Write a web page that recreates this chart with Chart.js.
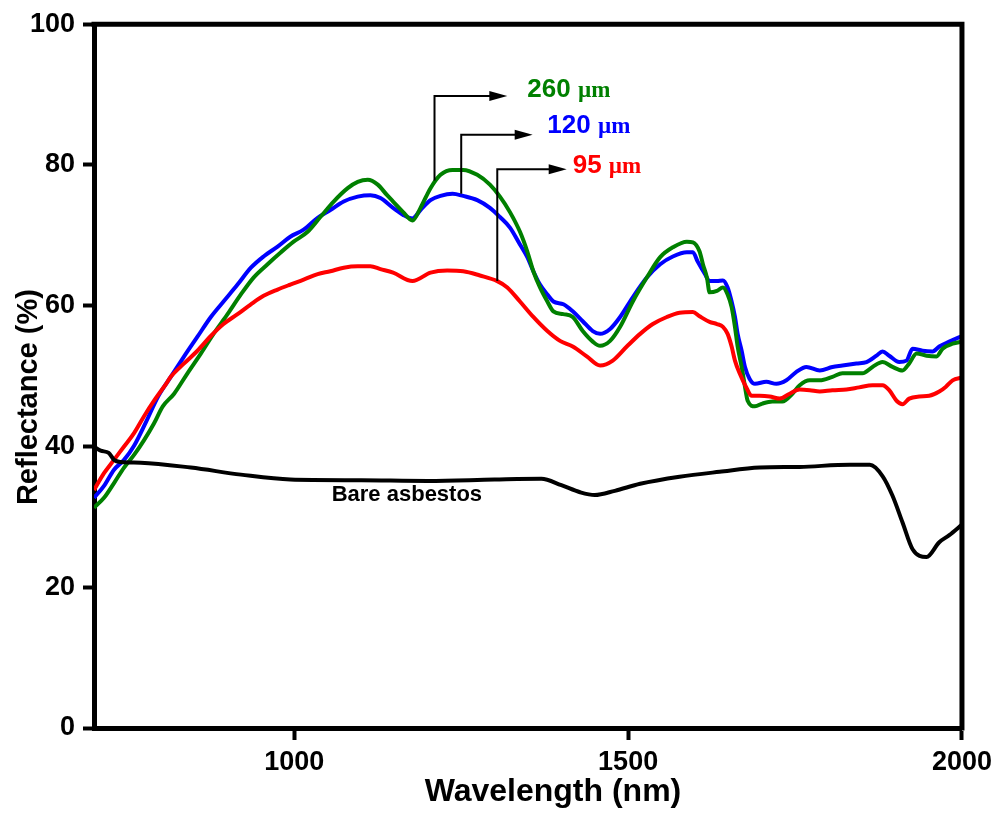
<!DOCTYPE html>
<html>
<head>
<meta charset="utf-8">
<script src="https://cdn.jsdelivr.net/npm/chart.js@4.4.1/dist/chart.umd.min.js"></script>
<style>
html,body{margin:0;padding:0;background:#fff;}
#wrap{width:998px;height:815px;position:relative;}
</style>
</head>
<body>
<div id="wrap"><canvas id="c" width="998" height="815"></canvas></div>
<script>
// ---- data ----
const wavelengthTicks = [1000, 1500, 2000];
const reflectanceTicks = [0, 20, 40, 60, 80, 100];

const nm260 = [700,715,730,745,760,775,790,803,820,840,860,879,900,920,939,960,980,999,1020,1039,1059,1080,1095,1110,1125,1139,1148,1163,1177,1189,1204,1219,1237,1253,1274,1293,1308,1323,1338,1349,1358,1368,1379,1388,1403,1417,1432,1447,1458,1473,1488,1507,1528,1548,1567,1588,1597,1607,1612,1618,1622,1633,1642,1649,1655,1660,1664,1670,1675,1679,1690,1701,1716,1731,1746,1757,1772,1787,1806,1821,1851,1866,1881,1896,1911,1921,1932,1947,1962,1971,1986,2000];
const refl260 = [31.3,32.7,34.8,37.0,38.8,40.9,43.3,45.7,47.5,50.4,53.2,56.0,58.8,61.6,64.0,65.9,67.6,69.1,70.5,72.6,74.8,76.7,77.6,77.9,77.2,75.7,74.8,73.3,72.1,73.9,76.7,78.6,79.3,79.3,78.6,77.2,75.5,73.3,70.5,67.7,64.9,62.6,60.6,59.2,58.8,58.4,56.4,54.9,54.3,55.0,57.0,60.6,64.0,66.9,68.3,69.1,69.0,67.7,65.9,64.0,61.9,62.1,62.6,61.6,59.8,57.0,54.2,51.3,48.5,46.5,45.7,46.1,46.4,46.4,47.5,48.7,49.4,49.4,49.9,50.4,50.4,51.3,52.0,51.3,50.8,51.8,53.2,52.9,52.8,53.9,54.6,54.9];

const nm120 = [700,715,730,745,760,778,796,815,835,855,875,894,915,935,954,975,994,1014,1035,1054,1074,1095,1114,1129,1148,1163,1177,1189,1204,1219,1237,1253,1274,1293,1308,1323,1338,1349,1358,1368,1379,1388,1403,1417,1432,1447,1458,1473,1488,1507,1528,1548,1567,1588,1597,1604,1615,1622,1633,1642,1649,1655,1660,1664,1670,1675,1682,1690,1707,1722,1737,1752,1767,1787,1806,1821,1842,1857,1872,1881,1891,1906,1917,1926,1941,1956,1966,1981,2000];
const refl120 = [32.7,34.4,36.7,38.1,40.1,43.5,47.1,49.9,52.8,55.6,58.4,60.6,63.0,65.4,67.0,68.4,69.8,70.8,72.5,73.6,74.8,75.5,75.7,75.3,73.9,72.9,72.4,73.6,75.0,75.6,75.9,75.6,75.0,73.9,72.6,71.1,68.7,66.9,64.9,63.0,61.6,60.6,60.2,59.2,57.8,56.4,56.0,56.7,58.4,61.2,64.0,65.9,67.0,67.6,67.6,66.3,64.5,63.5,63.5,63.6,62.6,60.6,58.4,56.0,53.6,51.3,49.6,48.9,49.2,48.9,49.4,50.6,51.3,50.8,51.3,51.5,51.8,52.0,52.9,53.5,52.9,52.0,52.2,53.9,53.6,53.5,54.2,54.9,55.7];

const nm95 = [700,715,730,745,760,775,790,808,815,835,855,875,894,915,935,954,975,994,1014,1035,1054,1074,1095,1114,1129,1148,1177,1204,1229,1253,1278,1304,1319,1338,1358,1379,1398,1417,1438,1458,1477,1498,1518,1537,1558,1577,1597,1607,1622,1633,1642,1649,1655,1660,1667,1678,1685,1697,1712,1727,1742,1757,1772,1787,1806,1827,1846,1866,1881,1891,1902,1911,1921,1936,1951,1966,1976,1986,2000];
const refl95 = [33.8,36.2,38.1,40.0,41.9,44.3,46.5,48.9,49.9,51.8,53.6,55.7,57.4,58.8,60.2,61.4,62.3,63.0,63.7,64.5,64.9,65.4,65.6,65.6,65.2,64.7,63.5,64.7,65.0,64.9,64.3,63.5,62.6,60.6,58.4,56.4,55.0,54.2,52.8,51.5,52.2,54.2,56.0,57.4,58.4,59.0,59.1,58.5,57.7,57.4,57.0,56.0,54.2,52.2,50.4,48.2,47.2,47.2,47.1,46.8,47.5,48.1,48.0,47.8,48.0,48.1,48.4,48.7,48.7,48.0,46.5,46.0,46.8,47.1,47.2,47.8,48.5,49.4,49.8];

const nmBare = [700,710,722,730,740,770,845,920,994,1100,1200,1300,1370,1400,1428,1450,1480,1518,1577,1637,1697,1757,1832,1862,1881,1896,1911,1926,1947,1966,1981,2000];
const reflBare = [40.0,39.4,39.1,38.1,37.8,37.7,37.0,36.0,35.3,35.2,35.1,35.3,35.4,34.5,33.5,33.1,33.7,34.7,35.7,36.4,37.0,37.1,37.4,37.4,35.8,33.0,29.2,25.4,24.3,26.4,27.4,28.9];

const seriesLabels = ['260 µm', '120 µm', '95 µm', 'Bare asbestos'];

// ---- annotation callouts (data units) ----
const callouts = [
  {num:'260', color:'#008000', xv:1210, yFrom:77.8, yTo:89.8, xEnd:1319, tx:1349, ty:89.6},
  {num:'120', color:'#0000ff', xv:1250, yFrom:75.9, yTo:84.3, xEnd:1357, tx:1379, ty:84.6},
  {num:'95',  color:'#ff0000', xv:1304, yFrom:63.5, yTo:79.4, xEnd:1408, tx:1417, ty:78.8}
];
const bareLabel = {text:'Bare asbestos', x:1056, y:32.2};

function pts(xs, ys){ return xs.map((x,i)=>({x:x, y:ys[i]})); }

const FONT = "Arial, 'Liberation Sans', Helvetica, sans-serif";

const framePlugin = {
  id:'frame',
  afterDraw(chart){
    const {ctx, chartArea:a, scales} = chart;
    const X = scales.x, Y = scales.y;
    ctx.save();
    // top & right frame
    ctx.strokeStyle = '#000'; ctx.lineWidth = 5; ctx.lineCap='square';
    ctx.beginPath();
    ctx.moveTo(a.left, a.top); ctx.lineTo(a.right, a.top); ctx.lineTo(a.right, a.bottom);
    ctx.stroke();
    // callouts
    callouts.forEach(c=>{
      const xv = X.getPixelForValue(c.xv);
      const y0 = Y.getPixelForValue(c.yFrom), y1 = Y.getPixelForValue(c.yTo);
      const xe = X.getPixelForValue(c.xEnd);
      ctx.strokeStyle='#000'; ctx.lineWidth=2; ctx.lineCap='butt';
      ctx.beginPath(); ctx.moveTo(xv, y0); ctx.lineTo(xv, y1); ctx.lineTo(xe-16, y1); ctx.stroke();
      ctx.fillStyle='#000';
      ctx.beginPath(); ctx.moveTo(xe, y1); ctx.lineTo(xe-18, y1-5); ctx.lineTo(xe-18, y1+5); ctx.closePath(); ctx.fill();
      const tx = X.getPixelForValue(c.tx), ty = Y.getPixelForValue(c.ty);
      ctx.fillStyle=c.color; ctx.textBaseline='alphabetic'; ctx.textAlign='left';
      ctx.font = "bold 26px " + FONT;
      ctx.fillText(c.num, tx, ty);
      const w = ctx.measureText(c.num + ' ').width;
      ctx.font = "bold 23px 'Liberation Serif', 'Times New Roman', serif";
      ctx.fillText('µm', tx + w, ty);
    });
    // bare asbestos label
    ctx.fillStyle='#000'; ctx.font = "bold 22px " + FONT; ctx.textAlign='left';
    ctx.fillText(bareLabel.text, X.getPixelForValue(bareLabel.x), Y.getPixelForValue(bareLabel.y));
    // axis titles
    ctx.font = "bold 32px " + FONT; ctx.textAlign='center';
    ctx.fillText('Wavelength (nm)', (a.left+a.right)/2 + 25, 801);
    ctx.save();
    ctx.translate(37, (a.top+a.bottom)/2 + 21);
    ctx.rotate(-Math.PI/2);
    ctx.font = "bold 29px " + FONT;
    ctx.fillText('Reflectance (%)', 0, 0);
    ctx.restore();
    ctx.restore();
  }
};

const ds = (label, xs, ys, color) => ({
  label, data: pts(xs, ys), borderColor: color, backgroundColor: color,
  borderWidth: 4, pointRadius: 0, fill: false, cubicInterpolationMode: 'monotone'
});

new Chart(document.getElementById('c'), {
  type: 'line',
  data: {
    datasets: [
      ds(seriesLabels[3], nmBare, reflBare, '#000000'),
      ds(seriesLabels[2], nm95, refl95, '#ff0000'),
      ds(seriesLabels[0], nm260, refl260, '#008000'),
      ds(seriesLabels[1], nm120, refl120, '#0000ff')
    ]
  },
  options: {
    responsive: false,
    animation: false,
    devicePixelRatio: 1,
    layout: { padding: { left: 0, right: 33, top: 20, bottom: 0 } },
    plugins: { legend: { display: false }, tooltip: { enabled: false } },
    scales: {
      x: {
        type: 'linear', min: 700, max: 2000,
        afterBuildTicks: s => { s.ticks = wavelengthTicks.map(v => ({value: v})); },
        afterFit: s => { s.height = 87; },
        grid: { drawOnChartArea: false, drawTicks: true, tickLength: 12, tickWidth: 4, tickColor: '#000' },
        border: { display: true, width: 5, color: '#000' },
        ticks: { color: '#000', font: { family: FONT, size: 27, weight: 'bold' }, padding: 6, maxRotation: 0,
                 callback: v => String(v) }
      },
      y: {
        type: 'linear', min: 0, max: 100,
        afterBuildTicks: s => { s.ticks = reflectanceTicks.map(v => ({value: v})); },
        afterFit: s => { s.width = 94; },
        grid: { drawOnChartArea: false, drawTicks: true, tickLength: 11, tickWidth: 4, tickColor: '#000' },
        border: { display: true, width: 5, color: '#000' },
        ticks: { color: '#000', font: { family: FONT, size: 27, weight: 'bold' }, padding: 8,
                 callback: v => String(v) }
      }
    }
  },
  plugins: [framePlugin]
});
</script>
</body>
</html>
